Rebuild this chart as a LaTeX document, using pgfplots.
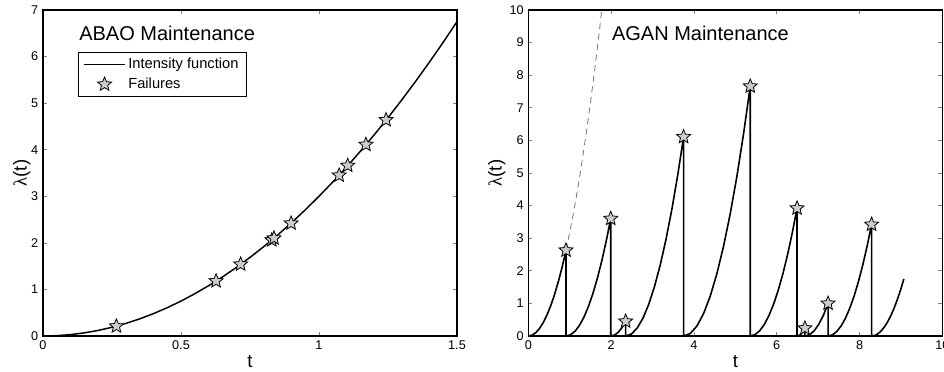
\documentclass[border=0pt]{standalone}
\usepackage{fontspec}
\setmainfont{Liberation Sans}
\newfontfamily\grk{Liberation Serif}
\usepackage{pgfplots}
\pgfplotsset{compat=1.18}

% five-pointed star, filled light grey
\pgfdeclareplotmark{pstar}{%
  \pgfpathmoveto{\pgfpointpolar{90}{\pgfplotmarksize}}%
  \pgfpathlineto{\pgfpointpolar{126}{0.45\pgfplotmarksize}}%
  \pgfpathlineto{\pgfpointpolar{162}{\pgfplotmarksize}}%
  \pgfpathlineto{\pgfpointpolar{198}{0.45\pgfplotmarksize}}%
  \pgfpathlineto{\pgfpointpolar{234}{\pgfplotmarksize}}%
  \pgfpathlineto{\pgfpointpolar{270}{0.45\pgfplotmarksize}}%
  \pgfpathlineto{\pgfpointpolar{306}{\pgfplotmarksize}}%
  \pgfpathlineto{\pgfpointpolar{342}{0.45\pgfplotmarksize}}%
  \pgfpathlineto{\pgfpointpolar{18}{\pgfplotmarksize}}%
  \pgfpathlineto{\pgfpointpolar{54}{0.45\pgfplotmarksize}}%
  \pgfpathclose
  \pgfusepathqfillstroke}

\pgfplotsset{
  panel/.style={scale only axis, width=310.5pt, height=244.5pt,
    axis line style={line width=0.9pt}, major tick length=3pt,
    tick style={line width=0.5pt},
    tick label style={font=\fontsize{9.5}{11}\selectfont},
    /pgf/number format/assume math mode=true,
    xlabel style={font=\fontsize{14}{16}\selectfont, at={(axis description cs:0.5,0)}, anchor=center, yshift=-19.5pt},
    ylabel style={font=\fontsize{14}{16}\selectfont, anchor=center},
    clip=true},
  failures/.style={only marks, mark=pstar, mark size=5.5pt,
    mark options={fill=black!20, draw=black, line width=0.6pt}},
  lineleg/.style={legend image code/.code={\draw[black, line width=0.4pt] (0cm,0cm) -- (1.1cm,0cm);}},
  starleg/.style={legend image code/.code={\draw[##1] plot coordinates {(0.55cm,0cm)};}},
}

\begin{document}
\begin{tikzpicture}
\begin{axis}[panel, at={(0pt,0pt)}, anchor=south west,
  xmin=0, xmax=1.5, ymin=0, ymax=7,
  xtick={0,0.5,1,1.5}, ytick={0,1,...,7},
  xlabel={t}, ylabel={{\grk λ}(t)},
  ylabel style={at={(axis description cs:-0.0515,0.5)}},
  legend style={at={(axis description cs:0.084,0.872)}, anchor=north west,
    draw=black, line width=0.5pt, font=\fontsize{11}{13}\selectfont,
    legend cell align=left, row sep=1.5pt, inner xsep=4pt, inner ysep=2.5pt}]
\addplot[black, line width=1.1pt, lineleg]
  coordinates {(0,0) (0.05,0.0075) (0.1,0.03) (0.15,0.0675) (0.2,0.12) (0.25,0.1875)
  (0.3,0.27) (0.35,0.3675) (0.4,0.48) (0.45,0.6075) (0.5,0.75) (0.55,0.9075)
  (0.6,1.08) (0.65,1.2675) (0.7,1.47) (0.75,1.6875) (0.8,1.92) (0.85,2.1675)
  (0.9,2.43) (0.95,2.7075) (1.0,3.0) (1.05,3.3075) (1.1,3.63) (1.15,3.9675)
  (1.2,4.32) (1.25,4.6875) (1.3,5.07) (1.35,5.4675) (1.4,5.88) (1.45,6.3075) (1.5,6.75)};
\addlegendentry{Intensity function}
\addplot[failures, starleg]
  coordinates {(0.266,0.21) (0.627,1.18) (0.716,1.54) (0.829,2.06) (0.837,2.10)
  (0.899,2.42) (1.073,3.45) (1.104,3.66) (1.170,4.11) (1.243,4.64)};
\addlegendentry{Failures}
\node[anchor=west, inner sep=0pt, font=\fontsize{15}{18}\selectfont]
  at (axis description cs:0.087,0.927) {ABAO Maintenance};
\end{axis}

\begin{axis}[panel, at={(364pt,0pt)}, anchor=south west,
  xmin=0, xmax=10, ymin=0, ymax=10,
  xtick={0,2,...,10}, ytick={0,1,...,10},
  xlabel={t}, ylabel={{\grk λ}(t)},
  ylabel style={at={(axis description cs:-0.0764,0.5)}}]
\addplot[black!55, line width=0.6pt, dash pattern=on 4.5pt off 3.5pt]
  coordinates {(0.91,2.633) (1.0,3.18) (1.1,3.848) (1.2,4.579) (1.3,5.374)
  (1.4,6.233) (1.5,7.155) (1.6,8.141) (1.7,9.19) (1.775,10.02)};
\addplot[black, line width=1.2pt] coordinates {
  (0,0) (0.091,0.026) (0.182,0.105) (0.273,0.237) (0.364,0.421) (0.455,0.658)
  (0.546,0.947) (0.637,1.289) (0.728,1.683) (0.819,2.130) (0.91,2.63) (0.91,0)
  (1.018,0.036) (1.126,0.144) (1.234,0.324) (1.342,0.576) (1.45,0.9) (1.558,1.296)
  (1.666,1.764) (1.774,2.304) (1.882,2.916) (1.99,3.6) (1.99,0)
  (2.08,0.028) (2.17,0.113) (2.26,0.253) (2.35,0.45) (2.35,0)
  (2.49,0.061) (2.63,0.244) (2.77,0.550) (2.91,0.978) (3.05,1.528) (3.19,2.200)
  (3.33,2.994) (3.47,3.910) (3.61,4.949) (3.75,6.11) (3.75,0)
  (3.911,0.077) (4.072,0.306) (4.233,0.689) (4.394,1.226) (4.555,1.915) (4.716,2.758)
  (4.877,3.753) (5.038,4.902) (5.199,6.205) (5.36,7.66) (5.36,0)
  (5.473,0.039) (5.586,0.157) (5.699,0.353) (5.812,0.627) (5.925,0.98) (6.038,1.411)
  (6.151,1.921) (6.264,2.509) (6.377,3.175) (6.49,3.92) (6.49,0)
  (6.5375,0.015) (6.585,0.06) (6.6325,0.135) (6.68,0.24) (6.68,0)
  (6.792,0.04) (6.904,0.16) (7.016,0.36) (7.128,0.64) (7.24,1.0) (7.24,0)
  (7.345,0.034) (7.45,0.137) (7.555,0.308) (7.66,0.547) (7.765,0.855) (7.87,1.231)
  (7.975,1.676) (8.08,2.189) (8.185,2.770) (8.29,3.42) (8.29,0)
  (8.368,0.0175) (8.446,0.07) (8.524,0.158) (8.602,0.28) (8.68,0.438) (8.758,0.63)
  (8.836,0.858) (8.914,1.12) (8.992,1.418) (9.07,1.75)};
\addplot[failures] coordinates {(0.91,2.63) (1.99,3.6) (2.35,0.45) (3.75,6.11)
  (5.36,7.66) (6.49,3.92) (6.68,0.24) (7.24,1.0) (8.29,3.42)};
\node[anchor=west, inner sep=0pt, font=\fontsize{15}{18}\selectfont]
  at (axis description cs:0.2015,0.928) {AGAN Maintenance};
\end{axis}
\pgfresetboundingbox
\path[use as bounding box] (-32.25pt,-26.25pt) rectangle (675.75pt,252pt);
\end{tikzpicture}
\end{document}
